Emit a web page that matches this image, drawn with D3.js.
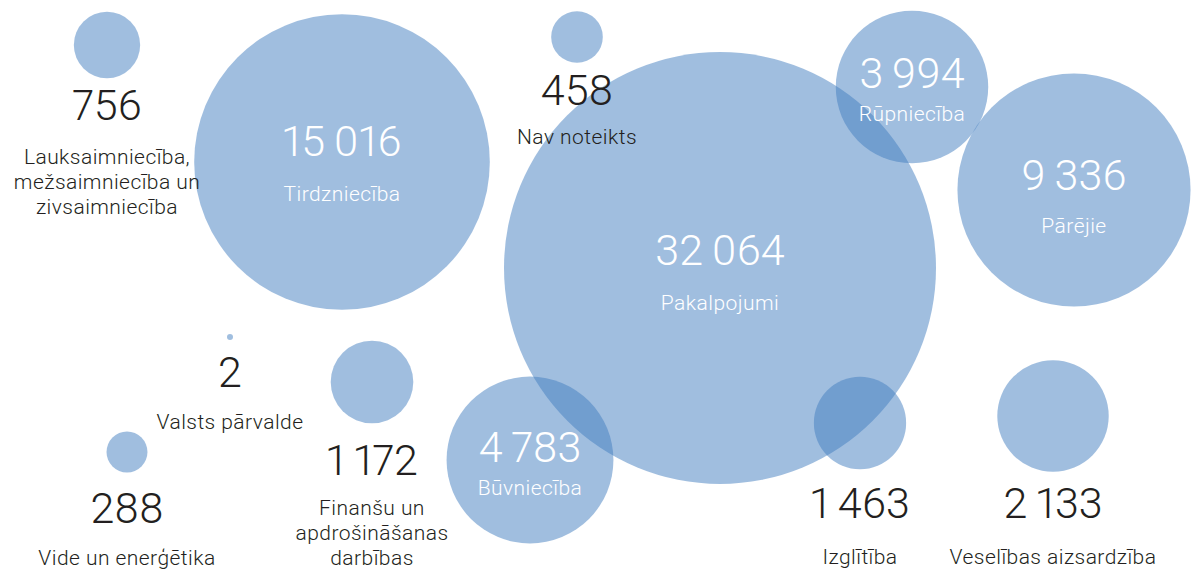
<!DOCTYPE html>
<html>
<head>
<meta charset="utf-8">
<script src="https://cdn.jsdelivr.net/npm/d3@7"></script>
<style>
  html, body { margin: 0; padding: 0; background: #fff; }
  svg { display: block; }
  text { font-family: Roboto, "Noto Sans", sans-serif; }
  .num { font-variant-numeric: proportional-nums; font-feature-settings: "pnum" 1; }
</style>
</head>
<body>
<svg id="svg" width="1191" height="570"></svg>
<script>
// sectors and counts
const categories = [
  ['Lauksaimniecība,', 'mežsaimniecība un', 'zivsaimniecība'],
  ['Tirdzniecība'],
  ['Nav noteikts'],
  ['Pakalpojumi'],
  ['Rūpniecība'],
  ['Pārējie'],
  ['Valsts pārvalde'],
  ['Finanšu un', 'apdrošināšanas', 'darbības'],
  ['Vide un enerģētika'],
  ['Būvniecība'],
  ['Izglītība'],
  ['Veselības aizsardzība']
];
const values = [756, 15016, 458, 32064, 3994, 9336, 2, 1172, 288, 4783, 1463, 2133];

// hand placed bubble layout: centre, number baseline, first label baseline, text inside?
const layout = [
  { cx: 107, cy: 45,  numY: 120, labY: 164, inside: false },
  { cx: 342, cy: 162, numY: 156, labY: 201, inside: true },
  { cx: 577, cy: 37,  numY: 105, labY: 144, inside: false },
  { cx: 720, cy: 268, numY: 265, labY: 310, inside: true },
  { cx: 912, cy: 87,  numY: 88,  labY: 121, inside: true },
  { cx: 1074, cy: 190, numY: 190, labY: 233, inside: true },
  { cx: 230, cy: 337, numY: 387, labY: 429, inside: false },
  { cx: 372, cy: 382, numY: 475, labY: 515, inside: false },
  { cx: 127, cy: 452, numY: 523, labY: 565, inside: false },
  { cx: 530, cy: 460, numY: 462, labY: 495, inside: true },
  { cx: 860, cy: 423, numY: 518, labY: 564, inside: false },
  { cx: 1053, cy: 416, numY: 518, labY: 564, inside: false }
];

const data = values.map((v, i) => ({ value: v, label: categories[i], ...layout[i] }));

const svg = d3.select('#svg');

const r = d3.scaleSqrt()
  .domain([0, d3.max(values)])
  .range([0, 216]);

const fmt = d3.formatLocale({ decimal: ',', thousands: '\u2009', grouping: [3], currency: ['', ''] }).format(',d');

svg.append('g')
  .selectAll('circle')
  .data(data)
  .enter()
  .append('circle')
    .attr('cx', d => d.cx)
    .attr('cy', d => d.cy)
    .attr('r', d => Math.max(3, r(d.value)))
    .attr('fill', '#417dc0')
    .attr('fill-opacity', 0.5);

const labels = svg.append('g')
  .selectAll('g')
  .data(data)
  .enter()
  .append('g');

labels.append('text')
  .attr('class', 'num')
  .attr('x', d => d.cx)
  .attr('y', d => d.numY)
  .attr('text-anchor', 'middle')
  .attr('font-size', 43)
  .attr('font-weight', 300)
  .attr('fill', d => d.inside ? '#fff' : '#231f20')
  .text(d => fmt(d.value));

labels.append('text')
  .attr('text-anchor', 'middle')
  .attr('font-size', 21)
  .attr('font-weight', 300)
  .attr('letter-spacing', 0.45)
  .attr('fill', d => d.inside ? '#fff' : '#231f20')
  .selectAll('tspan')
  .data(d => d.label.map((t, j) => ({ t, j, d })))
  .enter()
  .append('tspan')
    .attr('x', o => o.d.cx)
    .attr('y', o => o.d.labY + o.j * 25)
    .text(o => o.t);
</script>
</body>
</html>
